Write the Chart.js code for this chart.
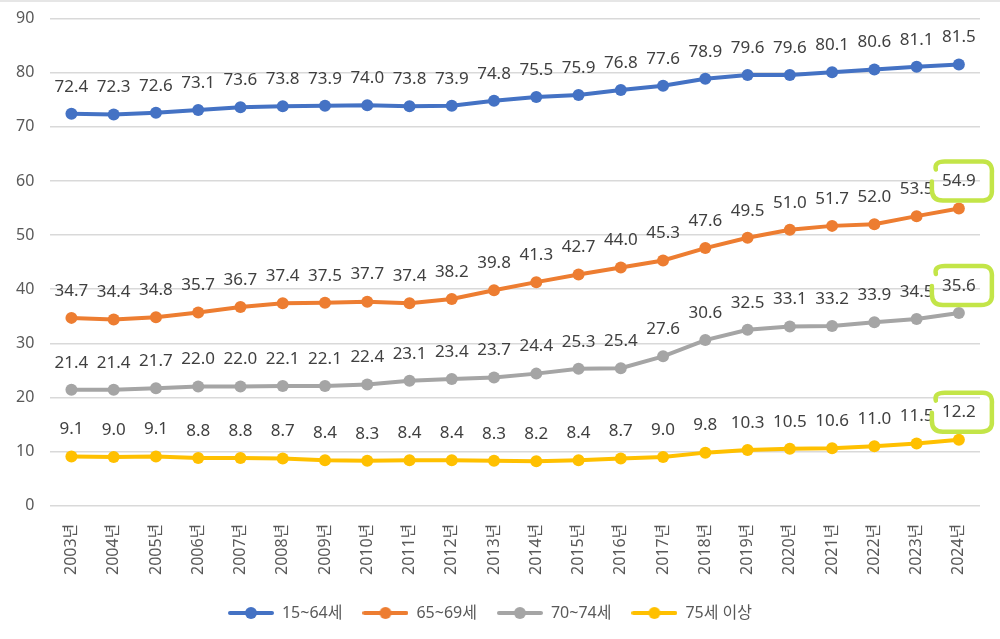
<!DOCTYPE html>
<html>
<head>
<meta charset="utf-8">
<script src="https://cdn.jsdelivr.net/npm/chart.js@4"></script>
<style>
  html, body { margin: 0; padding: 0; background: #fff; }
  #wrap { width: 1000px; height: 639px; position: relative; overflow: hidden; }
  #inner { position: absolute; left: 0; top: -7px; width: 1000px; height: 646px; }
  #topline { position: absolute; left: 0; top: 0; width: 1000px; height: 2px; background: #e6e6e6; }
</style>
</head>
<body>
<div id="wrap"><div id="inner"><canvas id="line-chart"></canvas></div><div id="topline"></div></div>
<script>
var years = ["2003년","2004년","2005년","2006년","2007년","2008년","2009년","2010년","2011년","2012년","2013년",
             "2014년","2015년","2016년","2017년","2018년","2019년","2020년","2021년","2022년","2023년","2024년"];
var age15to64 = [72.4,72.3,72.6,73.1,73.6,73.8,73.9,74.0,73.8,73.9,74.8,75.5,75.9,76.8,77.6,78.9,79.6,79.6,80.1,80.6,81.1,81.5];
var age65to69 = [34.7,34.4,34.8,35.7,36.7,37.4,37.5,37.7,37.4,38.2,39.8,41.3,42.7,44.0,45.3,47.6,49.5,51.0,51.7,52.0,53.5,54.9];
var age70to74 = [21.4,21.4,21.7,22.0,22.0,22.1,22.1,22.4,23.1,23.4,23.7,24.4,25.3,25.4,27.6,30.6,32.5,33.1,33.2,33.9,34.5,35.6];
var age75plus = [9.1,9.0,9.1,8.8,8.8,8.7,8.4,8.3,8.4,8.4,8.3,8.2,8.4,8.7,9.0,9.8,10.3,10.5,10.6,11.0,11.5,12.2];
var seriesNames = ["15~64세","65~69세","70~74세","75세 이상"];
var yTicks = [0,10,20,30,40,50,60,70,80,90];

var colors = ["#4472C4","#ED7D31","#A5A5A5","#FFC000"];
var fontFamily = "'Noto Sans', 'Noto Sans CJK KR', sans-serif";

// legend marker: a short line with a dot in the middle
function legendMarker(color){
  var c = document.createElement("canvas");
  c.width = 46; c.height = 14;
  var ctx = c.getContext("2d");
  ctx.strokeStyle = color; ctx.lineWidth = 4; ctx.lineCap = "round";
  ctx.beginPath(); ctx.moveTo(2,7); ctx.lineTo(44,7); ctx.stroke();
  ctx.fillStyle = color;
  ctx.beginPath(); ctx.arc(23,7,6,0,Math.PI*2); ctx.fill();
  return c;
}

var valueLabels = {
  id: "valueLabels",
  afterDatasetsDraw: function(chart){
    var ctx = chart.ctx;
    ctx.save();
    ctx.font = "17px " + fontFamily;
    ctx.fillStyle = "#404040";
    ctx.textAlign = "center";
    ctx.textBaseline = "middle";
    chart.data.datasets.forEach(function(ds, i){
      var meta = chart.getDatasetMeta(i);
      meta.data.forEach(function(pt, j){
        ctx.fillText(ds.data[j].toFixed(1), pt.x, pt.y - 27);
      });
      // green hand-drawn highlight on the last value
      if (i > 0) {
        var last = meta.data[meta.data.length - 1];
        var cx = last.x + 4, cy = last.y - 27;
        ctx.save();
        ctx.strokeStyle = "#C3E548";
        ctx.lineWidth = 4.5;
        ctx.lineJoin = "round";
        ctx.lineCap = "round";
        ctx.beginPath();
        ctx.moveTo(cx - 27, cy - 12);
        ctx.quadraticCurveTo(cx - 29, cy - 20, cx - 18, cy - 20);
        ctx.lineTo(cx + 20, cy - 20);
        ctx.quadraticCurveTo(cx + 30, cy - 20, cx + 29, cy - 8);
        ctx.lineTo(cx + 29, cy + 8);
        ctx.quadraticCurveTo(cx + 30, cy + 19, cx + 18, cy + 19);
        ctx.lineTo(cx - 20, cy + 19);
        ctx.quadraticCurveTo(cx - 31, cy + 19, cx - 31, cy + 8);
        ctx.lineTo(cx - 31, cy);
        ctx.stroke();
        ctx.restore();
      }
    });
    ctx.restore();
  }
};

var allSeries = [age15to64, age65to69, age70to74, age75plus];
var datasets = allSeries.map(function(vals, i){
  return {
    label: seriesNames[i],
    data: vals,
    borderColor: colors[i],
    backgroundColor: colors[i],
    borderWidth: 4,
    pointRadius: 6,
    pointHoverRadius: 6,
    pointBorderWidth: 0,
    tension: 0
  };
});

var myLine = new Chart(document.getElementById("line-chart"), {
  type: "line",
  data: { labels: years, datasets: datasets },
  options: {
    responsive: true,
    maintainAspectRatio: false,
    animation: false,
    layout: { padding: { top: 0, right: 20, left: 0, bottom: 8 } },
    plugins: {
      legend: {
        position: "bottom",
        labels: {
          font: { size: 16, family: fontFamily },
          color: "#595959",
          padding: 20,
          boxWidth: 46,
          boxHeight: 14,
          pointStyleWidth: 46,
          usePointStyle: true,
          generateLabels: function(chart){
            return chart.data.datasets.map(function(ds, i){
              return {
                text: ds.label,
                pointStyle: legendMarker(colors[i]),
                fillStyle: colors[i],
                strokeStyle: colors[i],
                lineWidth: 0,
                datasetIndex: i,
                fontColor: "#595959"
              };
            });
          }
        }
      },
      tooltip: { enabled: false }
    },
    scales: {
      x: {
        offset: true,
        grid: { display: false },
        border: { display: false },
        ticks: {
          minRotation: 90,
          maxRotation: 90,
          padding: 10,
          color: "#595959",
          font: { size: 16, family: fontFamily }
        }
      },
      y: {
        min: yTicks[0],
        max: yTicks[yTicks.length - 1],
        afterBuildTicks: function(axis){
          axis.ticks = yTicks.map(function(v){ return { value: v }; });
        },
        grid: { color: "#D9D9D9", lineWidth: 1.5, drawTicks: false },
        border: { display: false },
        ticks: {
          padding: 16,
          color: "#595959",
          font: { size: 16, family: fontFamily }
        }
      }
    }
  },
  plugins: [valueLabels]
});
</script>
</body>
</html>
